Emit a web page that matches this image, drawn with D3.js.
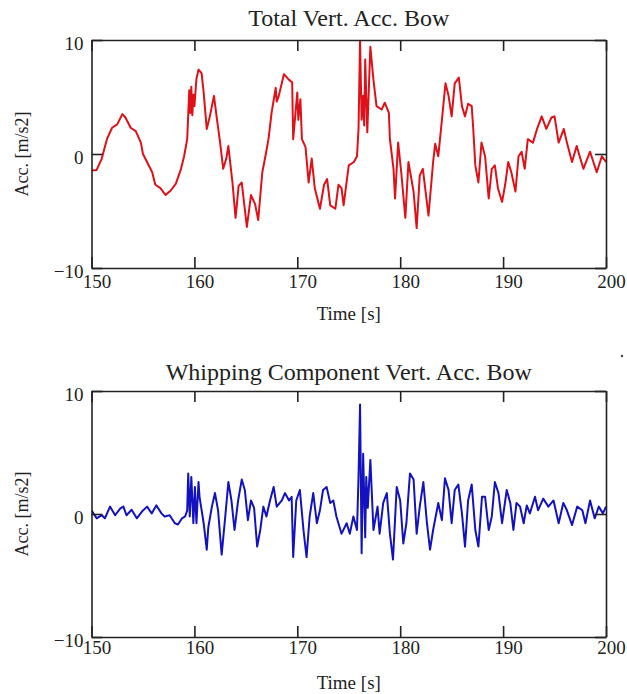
<!DOCTYPE html>
<html lang="en">
  <head>
    <meta charset="UTF-8" />
    <!-- Load d3.js -->
    <script src="https://d3js.org/d3.v7.min.js"></script>
    <title>Vertical acceleration at the bow</title>
    <style>
      body { margin: 0; background: #fff; }
      text { font-family: "Liberation Serif", "Times New Roman", serif; fill: #222; }
    </style>
  </head>
  <body>
    <div id="my_dataviz"></div>

    <script>
      // ---- data ----
      var timeTicks = [150, 160, 170, 180, 190, 200]
      var accTicks = [-10, 0, 10]

      // total vertical acceleration (red)
      var totalTime = [150.0, 150.5, 151.0, 151.5, 152.0, 152.5, 153.0, 153.3, 153.8, 154.3, 154.8, 155.0, 155.4, 155.9,
        156.2, 156.7, 157.2, 157.7, 158.2, 158.7, 159.0, 159.3, 159.5, 159.6, 159.7, 159.8, 159.9, 160.0, 160.2, 160.4,
        160.7, 160.9, 161.2, 161.5, 161.9, 162.2, 162.5, 162.8, 163.1, 163.3, 163.7, 164.0, 164.3, 164.6, 165.1, 165.5,
        165.9, 166.2, 166.6, 166.9, 167.2, 167.5, 167.9, 168.0, 168.2, 168.7, 169.2, 169.5, 169.6, 170.0, 170.1, 170.3,
        170.45, 170.8, 171.1, 171.4, 171.7, 172.2, 172.6, 172.9, 173.2, 173.7, 174.0, 174.3, 174.5, 175.0, 175.5, 175.8,
        175.95, 176.1, 176.25, 176.4, 176.5, 176.6, 176.8, 177.1, 177.4, 177.7, 178.2, 178.5, 178.9, 179.0, 179.35, 179.5,
        179.8, 180.1, 180.5, 180.8, 181.3, 181.6, 181.9, 182.2, 182.75, 183.2, 183.4, 183.7, 184.0, 184.4, 184.7, 185.0,
        185.3, 185.7, 186.0, 186.3, 186.6, 186.95, 187.1, 187.3, 187.6, 187.9, 188.25, 188.6, 188.9, 189.2, 189.5, 189.9,
        190.2, 190.5, 190.8, 191.2, 191.5, 191.8, 192.1, 192.4, 192.9, 193.3, 193.75, 194.2, 194.7, 195.0, 195.4, 195.9,
        196.2, 196.7, 197.15, 197.8, 198.45, 199.1, 199.6, 200.0]
      var totalAcc = [-1.45, -1.4, -0.4, 1.3, 2.3, 2.6, 3.5, 3.2, 2.3, 2.0, 1.0, 0.0, -0.7, -1.6,
        -2.7, -3.0, -3.6, -3.2, -2.6, -1.3, -0.2, 1.3, 5.6, 3.6, 5.9, 3.4, 5.2, 4.2, 6.6, 7.4,
        7.1, 5.4, 2.2, 3.3, 5.1, 3.0, 1.0, -1.3, -0.4, 0.7, -2.5, -5.6, -2.8, -2.5, -6.4, -3.6,
        -4.4, -5.8, -1.6, -0.2, 1.3, 3.6, 5.8, 4.6, 5.1, 7.0, 6.5, 6.3, 1.3, 5.4, 3.0, 4.8,
        1.3, 0.6, -2.5, -0.4, -3.0, -4.8, -2.7, -2.2, -4.5, -4.8, -2.7, -3.0, -4.5, -1.0, -0.7, -0.2,
        2.2, 10.0, 3.0, 5.1, 2.5, 8.3, 1.9, 9.4, 6.5, 4.2, 3.9, 4.5, 3.6, 1.3, -1.3, -3.9,
        1.0, -1.6, -5.6, -0.7, -3.3, -6.5, -1.9, -1.3, -5.4, -0.7, 0.9, -0.2, 2.5, 6.2, 5.1, 3.3,
        6.2, 6.7, 4.2, 3.3, 4.4, 4.2, 2.2, -1.0, -2.5, 1.0, -0.2, -3.9, -1.3, -1.0, -3.0, -4.2,
        -2.7, -0.7, -1.6, -3.3, -0.2, 0.2, -1.3, 1.3, 1.0, 2.2, 3.3, 2.2, 3.2, 3.3, 1.0, 2.2,
        1.0, -0.7, 0.7, -1.3, 0.2, -1.6, -0.2, -0.7]

      // whipping component (blue)
      var whipTime = [150.0, 150.5, 151.0, 151.3, 151.8, 152.3, 152.8, 153.1, 153.4, 153.9, 154.4, 154.9, 155.4, 155.85,
        156.3, 156.8, 157.1, 157.6, 158.1, 158.4, 158.8, 159.1, 159.3, 159.4, 159.55, 159.7, 159.9, 160.05, 160.2, 160.4,
        160.5, 160.9, 161.2, 161.35, 161.7, 162.0, 162.3, 162.65, 163.0, 163.3, 163.6, 163.9, 164.25, 164.6, 164.9, 165.2,
        165.5, 165.8, 166.1, 166.4, 166.7, 167.0, 167.35, 167.7, 168.0, 168.5, 168.8, 169.2, 169.45, 169.6, 169.9, 170.25,
        170.6, 170.9, 171.2, 171.55, 171.9, 172.2, 172.5, 172.85, 173.2, 173.5, 173.8, 174.3, 174.8, 175.1, 175.45, 175.8,
        175.95, 176.1, 176.25, 176.4, 176.6, 176.7, 176.85, 177.1, 177.4, 177.8, 178.0, 178.35, 178.7, 179.0, 179.3, 179.66,
        180.0, 180.3, 180.6, 180.95, 181.3, 181.6, 181.9, 182.25, 182.6, 182.9, 183.2, 183.7, 184.05, 184.35, 184.7, 185.0,
        185.3, 185.65, 186.0, 186.3, 186.6, 186.95, 187.3, 187.6, 187.95, 188.25, 188.6, 188.9, 189.2, 189.55, 189.9, 190.35,
        190.7, 191.0, 191.3, 191.65, 192.0, 192.3, 192.6, 193.1, 193.4, 193.9, 194.4, 194.9, 195.4, 195.85, 196.2, 196.7,
        197.2, 197.7, 198.0, 198.45, 198.9, 199.3, 199.7, 200.0]
      var whipAcc = [0.3, -0.35, -0.1, -0.35, 0.6, -0.1, 0.45, 0.6, -0.1, 0.35, -0.35, 0.2, 0.6, 0.05,
        0.7, 0.05, -0.2, -0.1, -0.75, -0.85, -0.35, -0.2, 0.3, 3.3, -0.2, 3.0, -0.75, 2.2, -0.75, 2.6,
        1.4, -0.75, -2.9, -1.1, 0.6, 1.7, 0.3, -3.3, -0.2, 2.6, 1.1, -1.3, 1.1, 2.8, 1.95, -0.5,
        1.1, 0.5, -2.65, -1.3, 0.6, -0.2, 1.1, 2.2, 0.6, 1.1, 1.7, 1.1, 1.4, -3.5, 1.1, 1.95,
        -1.3, -3.5, -0.2, 1.7, -0.75, 0.3, 1.95, 2.2, 0.9, 1.1, -0.2, -1.6, -0.75, -1.6, -0.2, -1.3,
        3.0, 8.9, -3.2, 4.9, -1.9, 3.0, 0.5, 4.4, -1.3, 0.6, -1.6, 0.9, 1.7, -1.6, -3.7, 2.2,
        1.1, -2.4, -0.75, 3.3, 2.8, -1.6, 0.6, 2.6, -0.75, -2.9, -1.3, 0.9, -0.5, 2.9, 1.95, -0.75,
        1.95, 2.4, 0.05, -2.65, 1.1, 2.4, -1.3, -2.65, 1.4, 1.4, -1.3, -0.2, 2.6, 1.7, -0.75, 1.95,
        0.9, -1.3, 0.9, 0.6, -0.75, 0.7, 0.05, 1.4, 0.3, 1.25, 0.6, 1.1, -0.75, 0.9, 0.3, -0.9,
        0.6, 0.3, -0.75, 1.1, -0.35, 0.6, 0.05, 0.6]

      // ---- layout ----
      var width = 627, height = 694
      var left = 91.5, right = 606, tick = 11

      var panels = [
        { title: "Total Vert. Acc. Bow", time: totalTime, acc: totalAcc, color: "#e01018",
          top: 40, bottom: 268, titleY: 18, labelPad: 7, xTitleY: 313 },
        { title: "Whipping Component Vert. Acc. Bow", time: whipTime, acc: whipAcc, color: "#1212c0",
          top: 391, bottom: 637, titleY: 372, labelPad: 3, xTitleY: 682 }
      ]

      var svg = d3.select("#my_dataviz")
        .append("svg")
          .attr("width", width)
          .attr("height", height)

      var x = d3.scaleLinear().domain([150, 200]).range([left, right])

      function styleAxis(g) {
        g.selectAll("path.domain").attr("stroke", "#222").attr("stroke-width", 1.6)
        g.selectAll(".tick line").attr("stroke", "#222").attr("stroke-width", 1.6)
        g.selectAll(".tick text").style("font-size", "19px").attr("fill", "#222")
      }

      panels.forEach(function(p, i) {
        var y = d3.scaleLinear().domain([-10, 10]).range([p.bottom, p.top])
        var g = svg.append("g")

        g.append("clipPath").attr("id", "clip" + i)
          .append("rect")
            .attr("x", left).attr("y", p.top)
            .attr("width", right - left).attr("height", p.bottom - p.top)

        // the trace
        var pts = p.time.map(function(t, k) { return [t, p.acc[k]] })
        var line = d3.line()
          .x(function(d) { return x(d[0]) })
          .y(function(d) { return y(d[1]) })
        g.append("path")
          .datum(pts)
          .attr("clip-path", "url(#clip" + i + ")")
          .attr("fill", "none")
          .attr("stroke", p.color)
          .attr("stroke-width", 2)
          .attr("stroke-linejoin", "round")
          .attr("d", line)

        // box with inward ticks on all four sides
        g.append("g")
          .attr("transform", "translate(0," + p.bottom + ")")
          .call(d3.axisBottom(x).tickValues(timeTicks).tickSize(-tick).tickSizeOuter(0)
            .tickPadding(p.labelPad).tickFormat(d3.format("d")))
          .call(styleAxis)
          .selectAll(".tick text").attr("dx", 5)

        g.append("g")
          .attr("transform", "translate(0," + p.top + ")")
          .call(d3.axisTop(x).tickValues(timeTicks).tickSize(-tick).tickSizeOuter(0).tickFormat(""))
          .call(styleAxis)

        g.append("g")
          .attr("transform", "translate(" + left + ",0)")
          .call(d3.axisLeft(y).tickValues(accTicks).tickSize(-tick).tickSizeOuter(0).tickPadding(8))
          .call(styleAxis)
          .selectAll(".tick text").attr("dy", "0.5em")

        g.append("g")
          .attr("transform", "translate(" + right + ",0)")
          .call(d3.axisRight(y).tickValues(accTicks).tickSize(-tick).tickSizeOuter(0).tickFormat(""))
          .call(styleAxis)

        // titles
        g.append("text")
          .attr("x", (left + right) / 2)
          .attr("y", p.titleY)
          .attr("dy", "0.35em")
          .attr("text-anchor", "middle")
          .style("font-size", "24px")
          .text(p.title)

        g.append("text")
          .attr("x", (left + right) / 2)
          .attr("y", p.xTitleY)
          .attr("dy", "0.35em")
          .attr("text-anchor", "middle")
          .style("font-size", "19px")
          .text("Time [s]")

        g.append("text")
          .attr("transform", "translate(22," + (p.top + p.bottom) / 2 + ") rotate(-90)")
          .attr("dy", "0.35em")
          .attr("text-anchor", "middle")
          .style("font-size", "18px")
          .text("Acc. [m/s2]")
      })

      // small stray dot to the right of the second title
      svg.append("circle").attr("cx", 622).attr("cy", 356).attr("r", 1.2).attr("fill", "#444")
    </script>
  </body>
</html>
